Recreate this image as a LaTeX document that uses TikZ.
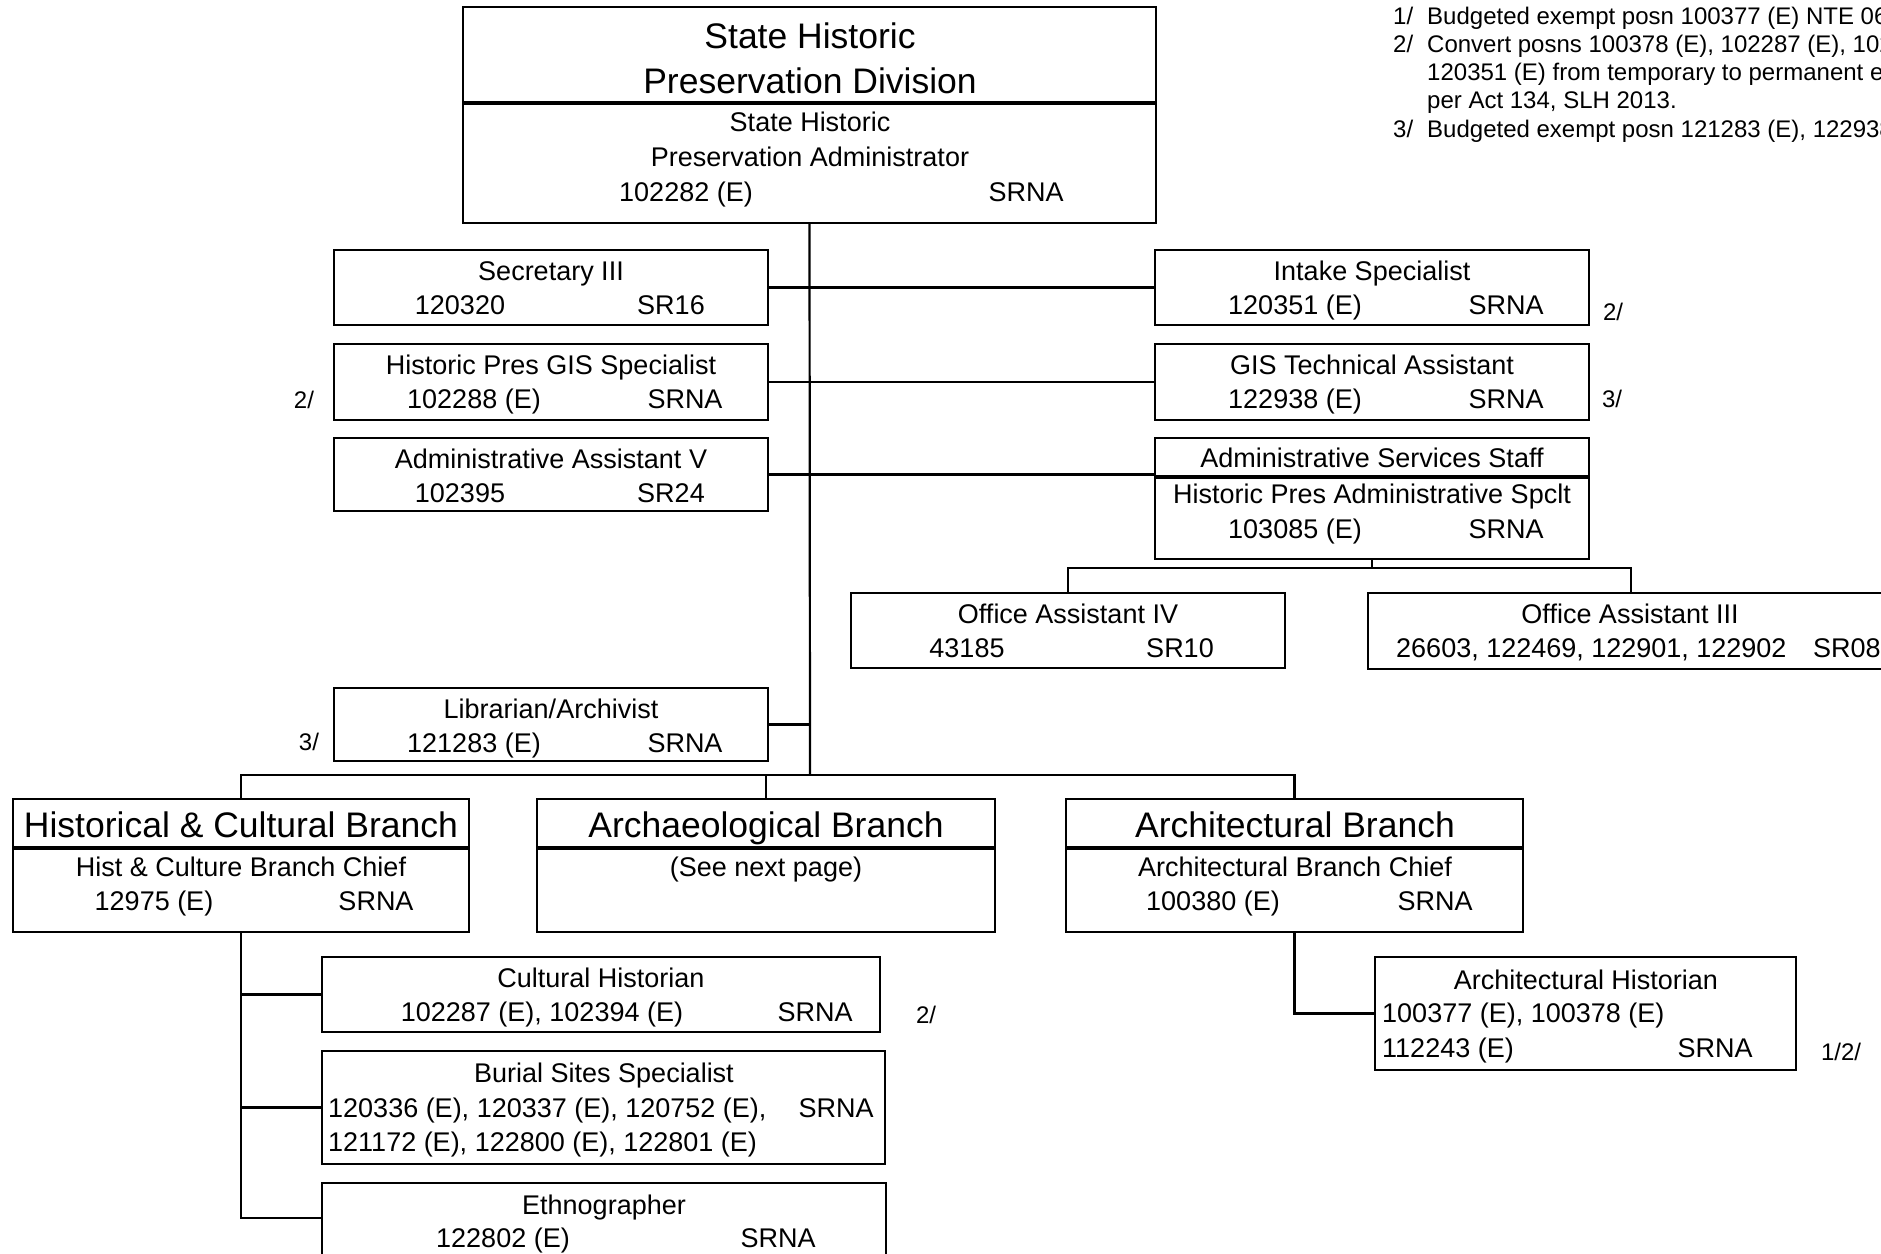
\documentclass[tikz,border=0pt]{standalone}
\usepackage{fontspec}
\setmainfont{Liberation Sans}
\begin{document}
\begin{tikzpicture}[x=1pt,y=-1pt,
  box/.style={draw, line width=2.6pt, inner sep=0pt, outer sep=0pt},
  conn/.style={line width=2.2pt},
  div/.style={line width=3.6pt},
  bt/.style={font=\fontsize{27}{32}\selectfont, inner sep=0pt, text height=19.3pt, text depth=0pt},
  tt/.style={font=\fontsize{35.5}{42}\selectfont, inner sep=0pt, text height=25.4pt, text depth=0pt},
  ft/.style={font=\fontsize{24}{28}\selectfont, inner sep=0pt, text height=17.2pt, text depth=0pt},
  nt/.style={font=\fontsize{24}{28}\selectfont, inner sep=0pt, anchor=base west}]
\newcommand\mkbox[5]{\node[box, minimum width={(#4)-(#2)}, minimum height={(#5)-(#3)}] (#1) at ({((#2)+(#4))/2},{((#3)+(#5))/2}) {};}
\fill[white] (0,0) rectangle (1881,1253);
\useasboundingbox (0,0) rectangle (1881,1253);

% notes
\node[nt] (n1a) at (1393,24) {1/};
\node[nt] (n1b) at (1427,24) {Budgeted exempt posn 100377 (E) NTE 06};
\node[nt] (n2a) at (1393,52.3) {2/};
\node[nt] (n2b) at (1427,52.3) {Convert posns 100378 (E), 102287 (E), 102};
\node[nt] (n2c) at (1427,80.6) {120351 (E) from temporary to permanent ef};
\node[nt] (n2d) at (1427,108.9) {per Act 134, SLH 2013.};
\node[nt] (n3a) at (1393,137.2) {3/};
\node[nt] (n3b) at (1427,137.2) {Budgeted exempt posn 121283 (E), 122938};

% top box
\mkbox{top}{463}{7}{1156}{223}
\draw[div] (463,103) -- (1156,103);
\node[tt] (t1) at (810,36) {State Historic};
\node[tt] (t2) at (810,81) {Preservation Division};
\node[bt] (t3) at (810,122) {State Historic};
\node[bt] (t4) at (810,157) {Preservation Administrator};
\node[bt] (t5) at (686,192) {102282 (E)};
\node[bt] (t6) at (1026,192) {SRNA};

% row 1
\mkbox{sec}{334}{250}{768}{325}
\node[bt] (sec1) at (551,271) {Secretary III};
\node[bt] (sec2) at (460,305) {120320};
\node[bt] (sec3) at (671,305) {SR16};
\mkbox{intake}{1155}{250}{1589}{325}
\node[bt] (in1) at (1372,271) {Intake Specialist};
\node[bt] (in2) at (1295,305) {120351 (E)};
\node[bt] (in3) at (1506,305) {SRNA};
\node[ft] (fn1) at (1613,312) {2/};

% row 2
\mkbox{gis}{334}{344}{768}{420}
\node[bt] (gis1) at (551,365) {Historic Pres GIS Specialist};
\node[bt] (gis2) at (474,399) {102288 (E)};
\node[bt] (gis3) at (685,399) {SRNA};
\node[ft] (fn2) at (304,400) {2/};
\mkbox{gist}{1155}{344}{1589}{420}
\node[bt] (gt1) at (1372,365) {GIS Technical Assistant};
\node[bt] (gt2) at (1295,399) {122938 (E)};
\node[bt] (gt3) at (1506,399) {SRNA};
\node[ft] (fn3) at (1612,399) {3/};

% row 3
\mkbox{aa}{334}{438}{768}{511}
\node[bt] (aa1) at (551,459) {Administrative Assistant V};
\node[bt] (aa2) at (460,493) {102395};
\node[bt] (aa3) at (671,493) {SR24};
\mkbox{ass}{1155}{438}{1589}{559}
\draw[div] (1155,477) -- (1589,477);
\node[bt] (as1) at (1372,458) {Administrative Services Staff};
\node[bt] (as2) at (1372,494) {Historic Pres Administrative Spclt};
\node[bt] (as3) at (1295,529) {103085 (E)};
\node[bt] (as4) at (1506,529) {SRNA};

% office assistants
\mkbox{oa4}{851}{593}{1285}{668}
\node[bt] (o41) at (1068,614) {Office Assistant IV};
\node[bt] (o42) at (967,648) {43185};
\node[bt] (o43) at (1180,648) {SR10};
\mkbox{oa3}{1368}{593}{1894}{669}
\node[bt] (o31) at (1630,614) {Office Assistant III};
\node[bt, anchor=west] (o32) at (1396,648) {26603, 122469, 122901, 122902};
\node[bt, anchor=west] (o33) at (1813,648) {SR08};

% librarian
\mkbox{lib}{334}{688}{768}{761}
\node[bt] (lib1) at (551,709) {Librarian/Archivist};
\node[bt] (lib2) at (474,743) {121283 (E)};
\node[bt] (lib3) at (685,743) {SRNA};
\node[ft] (fn4) at (309,742) {3/};

% branches
\mkbox{hcb}{13}{799}{469}{932}
\draw[div] (13,848) -- (469,848);
\node[tt] (h1) at (241,825) {Historical \& Cultural Branch};
\node[bt] (h2) at (241,867) {Hist \& Culture Branch Chief};
\node[bt] (h3) at (154,901) {12975 (E)};
\node[bt] (h4) at (376,901) {SRNA};
\mkbox{acb}{537}{799}{995}{932}
\draw[div] (537,848) -- (995,848);
\node[tt] (a1) at (766,825) {Archaeological Branch};
\node[bt] (a2) at (766,867) {(See next page)};
\mkbox{arb}{1066}{799}{1523}{932}
\draw[div] (1066,848) -- (1523,848);
\node[tt] (r1) at (1295,825) {Architectural Branch};
\node[bt] (r2) at (1295,867) {Architectural Branch Chief};
\node[bt] (r3) at (1213,901) {100380 (E)};
\node[bt] (r4) at (1435,901) {SRNA};

% architectural historian
\mkbox{ah}{1375}{957}{1796}{1070}
\node[bt] (ah1) at (1586,980) {Architectural Historian};
\node[bt, anchor=west] (ah2) at (1382,1013) {100377 (E), 100378 (E)};
\node[bt, anchor=west] (ah3) at (1382,1048) {112243 (E)};
\node[bt] (ah4) at (1715,1048) {SRNA};
\node[ft] (fn5) at (1841,1052) {1/2/};

% historical subtree
\mkbox{ch}{322}{957}{880}{1032}
\node[bt] (ch1) at (601,978) {Cultural Historian};
\node[bt] (ch2) at (542,1012) {102287 (E), 102394 (E)};
\node[bt] (ch3) at (815,1012) {SRNA};
\node[ft] (fn6) at (926,1015) {2/};
\mkbox{bs}{322}{1051}{885}{1164}
\node[bt] (bs1) at (604,1073) {Burial Sites Specialist};
\node[bt, anchor=west] (bs2) at (328,1108) {120336 (E), 120337 (E), 120752 (E),};
\node[bt] (bs3) at (836,1108) {SRNA};
\node[bt, anchor=west] (bs4) at (328,1142) {121172 (E), 122800 (E), 122801 (E)};
\mkbox{eth}{322}{1183}{886}{1280}
\node[bt] (et1) at (604,1205) {Ethnographer};
\node[bt] (et2) at (503,1238) {122802 (E)};
\node[bt] (et3) at (778,1238) {SRNA};

% connectors
\coordinate (bj) at (810,775);
\coordinate (aj) at (1372,568);
\coordinate (ej) at (241,1218);
\draw[conn] (top.south) -- (bj);
\draw[conn] (sec.east) -- (intake.west);
\draw[conn] (gis.east) -- (gist.west);
\draw[conn] (aa.east) -- (aa.east -| ass.west);
\draw[conn] (lib.east) -- (lib.east -| bj);
\draw[conn] (hcb.north) -- (hcb.north |- bj) -- (arb.north |- bj) -- (arb.north);
\draw[conn] (acb.north) -- (acb.north |- bj);
\draw[conn] (ass.south) -- (aj);
\draw[conn] (oa4.north) -- (oa4.north |- aj) -- (oa3.north |- aj) -- (oa3.north);
\draw[conn] (arb.south) |- (ah.west);
\draw[conn] (hcb.south) -- (ej) -- (ej -| eth.west);
\draw[conn] (hcb.south |- ch.west) -- (ch.west);
\draw[conn] (hcb.south |- bs.west) -- (bs.west);
\end{tikzpicture}
\end{document}
